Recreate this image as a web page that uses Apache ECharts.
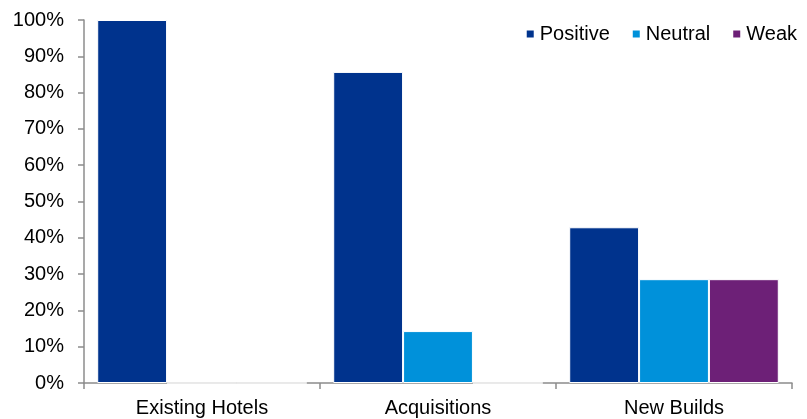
<!DOCTYPE html>
<html>
<head>
<meta charset="utf-8">
<script src="https://cdn.jsdelivr.net/npm/echarts@6/dist/echarts.min.js"></script>
<style>
  html, body { margin: 0; padding: 0; background: #fff; }
  #chart { width: 807px; height: 419px; }
</style>
</head>
<body>
<div id="chart"></div>
<script>
// Share of responses by outlook, per investment type
const categories = ['Existing Hotels', 'Acquisitions', 'New Builds'];
const positive = [100, 85.7, 42.9];
const neutral = [0, 14.3, 28.6];
const weak = [0, 0, 28.6];

const font = 'Arial, "Liberation Sans", sans-serif';
const axisColor = '#8c8c8c';

function barSeries(name, data, color) {
  return {
    name: name,
    type: 'bar',
    data: data,
    barWidth: '29.6%',
    barGap: '0%',
    itemStyle: { color: color, borderColor: '#ffffff', borderWidth: 1 }
  };
}

const chart = echarts.init(document.getElementById('chart'), null, { renderer: 'canvas' });
chart.setOption({
  animation: false,
  backgroundColor: '#ffffff',
  grid: { left: 84, right: 15, top: 20, bottom: 36 },
  legend: {
    right: 5,
    top: 19,
    itemWidth: 9,
    itemHeight: 9,
    itemGap: 21,
    icon: 'rect',
    textStyle: { fontFamily: font, fontSize: 20, color: '#000' },
    data: ['Positive', 'Neutral', 'Weak']
  },
  xAxis: {
    type: 'category',
    data: categories,
    axisLine: { lineStyle: { color: axisColor, width: 1.5 } },
    axisTick: { show: true, length: 6, lineStyle: { color: axisColor, width: 1.5 } },
    axisLabel: { fontFamily: font, fontSize: 20, color: '#000', margin: 15 }
  },
  yAxis: {
    type: 'value',
    min: 0,
    max: 100,
    interval: 10,
    splitLine: { show: false },
    axisLine: { show: true, lineStyle: { color: axisColor, width: 1.5 } },
    axisTick: { show: true, length: 6, lineStyle: { color: axisColor, width: 1.5 } },
    axisLabel: { fontFamily: font, fontSize: 20, color: '#000', margin: 20, formatter: '{value}%' }
  },
  series: [
    barSeries('Positive', positive, '#00338d'),
    barSeries('Neutral', neutral, '#0091da'),
    barSeries('Weak', weak, '#6d2077')
  ]
});
</script>
</body>
</html>
